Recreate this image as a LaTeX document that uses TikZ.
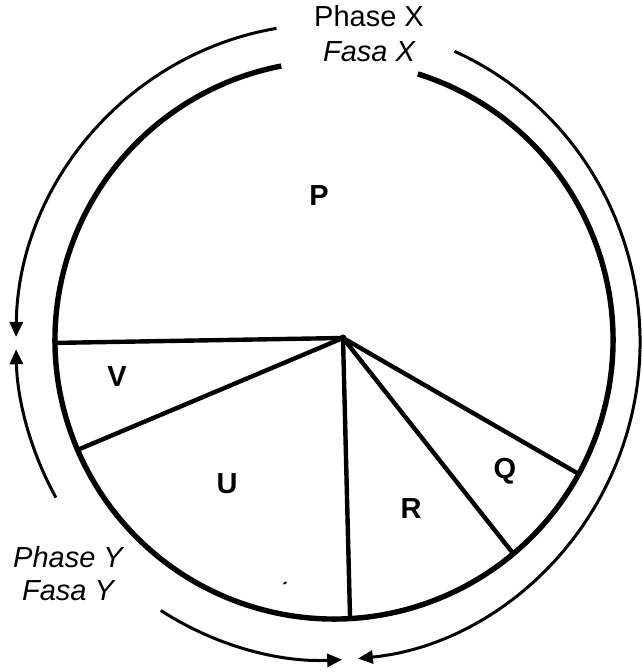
\documentclass[tikz,border=0pt]{standalone}
\usepackage{fontspec}
\setmainfont{Liberation Sans}
\usetikzlibrary{arrows.meta}
\begin{document}
\begin{tikzpicture}[x=1pt,y=1pt,
  rim/.style={line width=5.4pt},
  spoke/.style={line width=4.4pt, line cap=round},
  cyclearc/.style={line width=3pt, -{Triangle[length=15pt,width=13pt]}},
  seglabel/.style={font=\fontsize{29}{30}\selectfont\bfseries, inner sep=0pt},
  phase/.style={font=\fontsize{29}{30}\selectfont, inner sep=0pt, anchor=base}]
\useasboundingbox (0,0) rectangle (641,672);
% main circle
\coordinate (c) at (334,332);
\draw[rim] (c) ++(72.5:279) arc[start angle=72.5, end angle=-259.1, radius=279];
% hub and spoke ends
\coordinate (hub) at (343,334);
\path (c) ++(180.6:279) coordinate (eV);
\path (c) ++(203.2:279) coordinate (eVU);
\path (c) ++(-86.7:279) coordinate (eUR);
\path (c) ++(-50.0:279) coordinate (eRQ);
\path (c) ++(-28.7:279) coordinate (eQP);
\draw[spoke] (hub) -- (eV);
\draw[spoke] (hub) -- (eVU);
\draw[spoke] (hub) -- (eUR);
\draw[spoke] (hub) -- (eRQ);
\draw[spoke] (hub) -- (eQP);
\fill (hub) circle (3.5pt);
% outer cycle arcs
\coordinate (o) at (328,330);
\draw[cyclearc] (o) ++(99.5:312 and 318) arc[start angle=99.5, end angle=179.1, x radius=312pt, y radius=318pt];
\draw[cyclearc] (o) ++(209.3:312 and 318) arc[start angle=209.3, end angle=181.3, x radius=312pt, y radius=318pt];
\draw[cyclearc] (o) ++(66.1:312 and 318) arc[start angle=66.1, end angle=-84.5, x radius=312pt, y radius=318pt];
\draw[cyclearc] (o) ++(-122.4:312 and 318) arc[start angle=-122.4, end angle=-87.4, x radius=312pt, y radius=318pt];
% phase texts
\node[phase] (px) at (369,645) {Phase X};
\node[phase] (fx) at (369,610) {\itshape Fasa X};
\node[phase] (py) at (68,104) {\itshape Phase Y};
\node[phase] (fy) at (68,71) {\itshape Fasa Y};
% segment labels
\node[seglabel] (P) at (319,476) {P};
\node[seglabel] (V) at (117,295) {V};
\node[seglabel] (U) at (227,188) {U};
\node[seglabel] (R) at (411,163) {R};
\node[seglabel] (Q) at (505,201) {Q};
% speck
\fill[rotate around={30:(285,89)}] (285,89) ellipse (2pt and 1.2pt);
\end{tikzpicture}
\end{document}
